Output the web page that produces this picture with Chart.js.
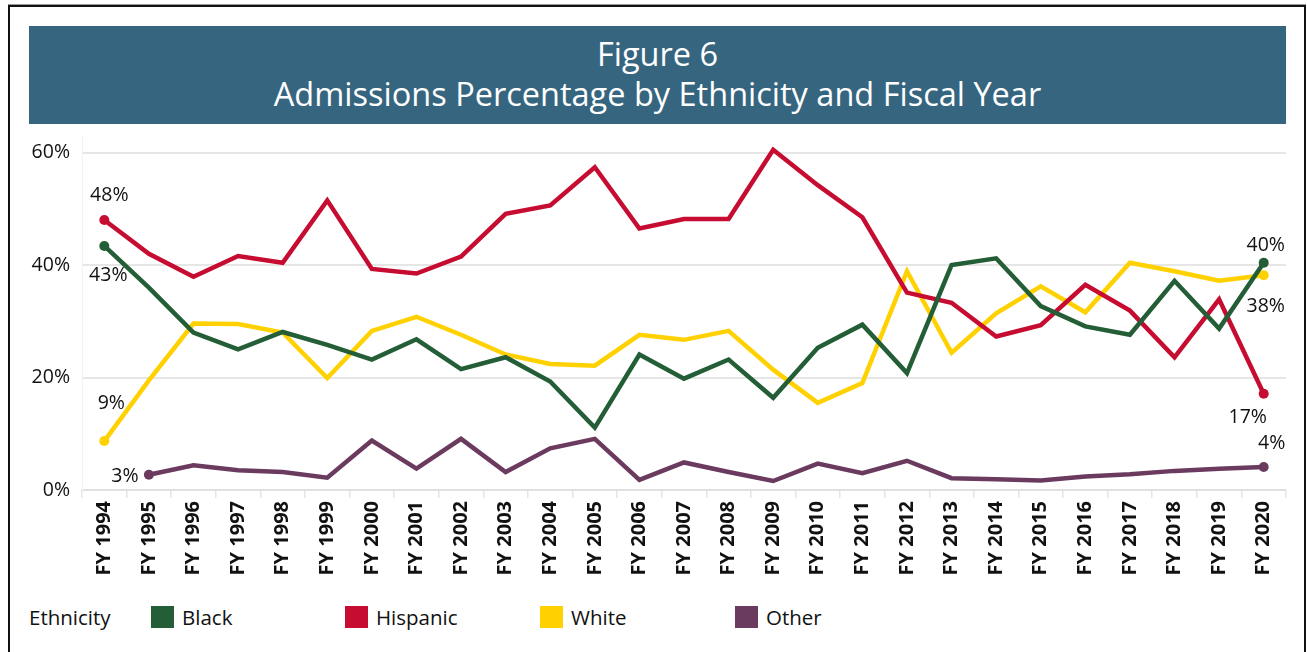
<!DOCTYPE html>
<html>
<head>
<meta charset="utf-8">
<script src="https://cdn.jsdelivr.net/npm/chart.js@4"></script>
<style>
  body { margin: 0; width: 1307px; height: 652px; overflow: hidden; background: #fff; position: relative; font-family: 'Open Sans', sans-serif; color: #111; }
  #frame { position: absolute; left: 8px; top: 5px; width: 1294px; height: 700px; border: 2px solid #111; border-bottom: none; box-shadow: 0 -1px 0 #999; }
  #banner { position: absolute; left: 29px; top: 26px; width: 1257px; height: 98px; background: #36657f; color: #fff; text-align: center; font-size: 32.5px; line-height: 40px; padding-top: 8px; box-sizing: border-box; }
  #chartBox { position: absolute; left: 0; top: 112px; width: 1307px; height: 488px; }
  #legend { position: absolute; top: 606px; left: 0; height: 22px; font-size: 20.5px; }
  .leg-item { position: absolute; top: 0; white-space: nowrap; line-height: 22px; }
  .swatch { position: absolute; top: 0; width: 23px; height: 22px; }
</style>
</head>
<body>
<div id="frame"></div>
<div id="banner">Figure 6<br>Admissions Percentage by Ethnicity and Fiscal Year</div>
<div id="chartBox"><canvas id="lineChart" width="1307" height="488"></canvas></div>
<div id="legend"></div>

<script>
// --- DATA ---
const years = ['FY 1994', 'FY 1995', 'FY 1996', 'FY 1997', 'FY 1998', 'FY 1999', 'FY 2000', 'FY 2001', 'FY 2002',
    'FY 2003', 'FY 2004', 'FY 2005', 'FY 2006', 'FY 2007', 'FY 2008', 'FY 2009', 'FY 2010', 'FY 2011', 'FY 2012',
    'FY 2013', 'FY 2014', 'FY 2015', 'FY 2016', 'FY 2017', 'FY 2018', 'FY 2019', 'FY 2020'];

const black = [43.4, 36.0, 28.0, 25.0, 28.1, 25.8, 23.2, 26.8, 21.5, 23.6, 19.3, 11.1, 24.1, 19.8, 23.2, 16.4, 25.3,
    29.4, 20.8, 40.0, 41.2, 32.7, 29.1, 27.6, 37.2, 28.7, 40.4];
const hispanic = [48.0, 42.0, 37.9, 41.6, 40.4, 51.5, 39.3, 38.5, 41.5, 49.1, 50.6, 57.4, 46.5, 48.2, 48.2, 60.5, 54.2,
    48.5, 35.1, 33.3, 27.3, 29.3, 36.5, 31.9, 23.6, 33.9, 17.1];
const white = [8.7, 19.5, 29.6, 29.5, 28.0, 19.9, 28.3, 30.8, 27.6, 24.1, 22.4, 22.1, 27.6, 26.7, 28.3, 21.4, 15.5,
    19.0, 38.9, 24.4, 31.4, 36.2, 31.6, 40.4, 38.9, 37.2, 38.2];
const other = [null, 2.7, 4.4, 3.5, 3.2, 2.2, 8.8, 3.8, 9.1, 3.2, 7.4, 9.1, 1.8, 4.9, 3.2, 1.6, 4.7, 3.0, 5.2, 2.1,
    1.9, 1.7, 2.4, 2.8, 3.4, 3.8, 4.1];

const yTicks = [0, 20, 40, 60];

// --- SERIES STYLE ---
const series = [
    { label: 'Black', data: black, color: '#245e37', first: { dx: 4, dy: 30 }, last: { dx: 2, dy: -17 } },
    { label: 'Hispanic', data: hispanic, color: '#c60c30', first: { dx: 5, dy: -25 }, last: { dx: -16, dy: 24 } },
    { label: 'White', data: white, color: '#ffd100', first: { dx: 7, dy: -38 }, last: { dx: 2, dy: 31 } },
    { label: 'Other', data: other, color: '#6b3b5f', first: { dx: -24, dy: 2 }, last: { dx: 8, dy: -24 } }
];

function firstIndex(arr) { return arr.findIndex(v => v !== null); }
function lastIndex(arr) {
    for (let i = arr.length - 1; i >= 0; i--) if (arr[i] !== null) return i;
    return -1;
}

// end-point value labels
const endLabels = {
    id: 'endLabels',
    afterDatasetsDraw(chart) {
        const ctx = chart.ctx;
        ctx.save();
        ctx.font = '19.5px "Open Sans"';
        ctx.fillStyle = '#111';
        ctx.textAlign = 'center';
        ctx.textBaseline = 'middle';
        series.forEach((s, di) => {
            const meta = chart.getDatasetMeta(di);
            [[firstIndex(s.data), s.first], [lastIndex(s.data), s.last]].forEach(([idx, off]) => {
                const pt = meta.data[idx];
                ctx.fillText(Math.round(s.data[idx]) + '%', pt.x + off.dx, pt.y + off.dy);
            });
        });
        ctx.restore();
    }
};

const ctx = document.getElementById('lineChart').getContext('2d');
new Chart(ctx, {
    type: 'line',
    data: {
        labels: years,
        datasets: series.map(s => ({
            label: s.label,
            data: s.data,
            borderColor: s.color,
            backgroundColor: s.color,
            borderWidth: 4.5,
            tension: 0,
            spanGaps: false,
            pointRadius: c => (c.dataIndex === firstIndex(s.data) || c.dataIndex === lastIndex(s.data)) ? 5 : 0,
            pointHoverRadius: 0,
            pointBorderWidth: 0
        }))
    },
    options: {
        responsive: false,
        animation: false,
        devicePixelRatio: 1,
        layout: { padding: { top: 4, right: 21, bottom: 0, left: 0 } },
        plugins: { legend: { display: false }, tooltip: { enabled: false } },
        scales: {
            x: {
                offset: true,
                grid: { drawOnChartArea: false, offset: true, color: '#e6e6e6', lineWidth: 1.5, tickLength: 8 },
                border: { color: '#e0e0e0', width: 2, dash: [2, 2] },
                ticks: {
                    autoSkip: false, maxRotation: 90, minRotation: 90, padding: 3,
                    color: '#111', font: { family: 'Open Sans', size: 20, weight: 'bold' }
                },
                afterFit(scale) { scale.height = 110; }
            },
            y: {
                min: 0,
                max: 63,
                afterBuildTicks(scale) { scale.ticks = yTicks.map(v => ({ value: v })); },
                grid: { color: '#e6e6e6', lineWidth: 2, drawTicks: false },
                border: { color: '#f2f2f2', width: 1 },
                ticks: {
                    padding: 12, color: '#111', font: { family: 'Open Sans', size: 19.5 },
                    callback: v => v + '%'
                },
                afterFit(scale) { scale.width = 82; }
            }
        }
    },
    plugins: [endLabels]
});

// --- LEGEND ---
const legend = document.getElementById('legend');
const title = document.createElement('div');
title.className = 'leg-item';
title.style.left = '29px';
title.textContent = 'Ethnicity';
legend.appendChild(title);
const legendX = [151, 345, 540, 735];
series.forEach((s, i) => {
    const sw = document.createElement('div');
    sw.className = 'swatch';
    sw.style.left = legendX[i] + 'px';
    sw.style.background = s.color;
    legend.appendChild(sw);
    const txt = document.createElement('div');
    txt.className = 'leg-item';
    txt.style.left = (legendX[i] + 31) + 'px';
    txt.textContent = s.label;
    legend.appendChild(txt);
});
</script>
</body>
</html>
